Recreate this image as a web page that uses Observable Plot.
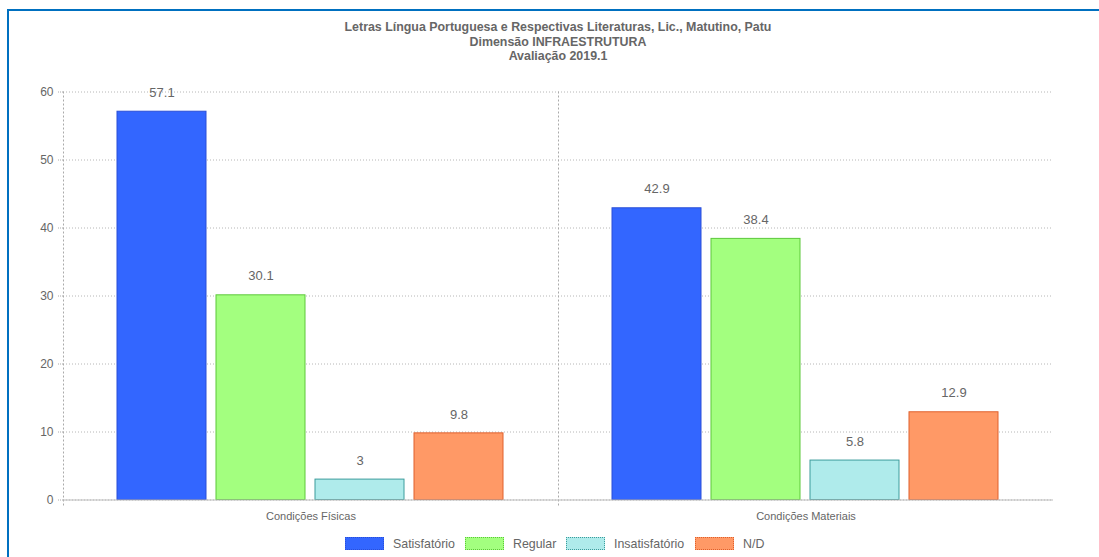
<!DOCTYPE html>
<html>
<head>
<meta charset="utf-8">
<script src="https://cdn.jsdelivr.net/npm/d3@7"></script>
<script src="https://cdn.jsdelivr.net/npm/@observablehq/plot@0.6"></script>
<style>
  html, body { margin: 0; padding: 0; background: #fff; width: 1099px; height: 557px; overflow: hidden; }
  body { font-family: "Liberation Sans", Arial, sans-serif; position: relative; }
  #frame { position: absolute; left: 7px; top: 9px; width: 1200px; height: 700px; border-left: 2px solid #0070c0; border-top: 2px solid #0070c0; }
  #title { position: absolute; left: 0; width: 1116px; top: 20px; text-align: center; color: #666; font-size: 12.4px; font-weight: bold; line-height: 14.5px; }
  #chart { position: absolute; left: 0; top: 70px; }
  #legend { position: absolute; top: 536px; left: 0; width: 1099px; height: 16px; font-size: 12.4px; color: #666; }
  .sw { position: absolute; top: 1px; width: 39px; height: 13px; box-sizing: border-box; border: 1px dotted; }
  .lb { position: absolute; top: 0px; line-height: 16px; }
</style>
</head>
<body>
<div id="frame"></div>
<div id="title">Letras Língua Portuguesa e Respectivas Literaturas, Lic., Matutino, Patu<br>Dimensão INFRAESTRUTURA<br>Avaliação 2019.1</div>
<div id="chart"></div>
<div id="legend"></div>
<script>
const categories = ["Condições Físicas", "Condições Materiais"];
const series = ["Satisfatório", "Regular", "Insatisfatório", "N/D"];
const satisfatorio = [57.1, 42.9];
const regular = [30.1, 38.4];
const insatisfatorio = [3, 5.8];
const nd = [9.8, 12.9];
const yTicks = [0, 10, 20, 30, 40, 50, 60];
const fills = ["#3366ff", "#a3ff7f", "#afebeb", "#ff9966"];
const strokes = ["#2a4fd8", "#5cc83a", "#3c9c9c", "#e0602c"];

const valuesBySeries = [satisfatorio, regular, insatisfatorio, nd];
const data = [];
categories.forEach((c, i) => {
  series.forEach((s, j) => {
    data.push({category: c, series: s, value: valuesBySeries[j][i]});
  });
});

const plot = Plot.plot({
  width: 1099,
  height: 455,
  marginLeft: 62,
  marginRight: 46,
  marginTop: 21.5,
  marginBottom: 25.5,
  style: {fontFamily: "'Liberation Sans', Arial, sans-serif", background: "transparent"},
  fx: {domain: categories, padding: 0, label: null},
  x: {domain: series, padding: 0.1, paddingOuter: 0.55, axis: null},
  y: {domain: [0, 60], label: null},
  color: {domain: series, range: fills},
  marks: [
    Plot.gridY(yTicks, {stroke: "#999", strokeOpacity: 0.7, strokeDasharray: "1,2"}),
    Plot.frame({anchor: "left", stroke: "#aaa", strokeOpacity: 1, strokeDasharray: "1,3", insetBottom: -8}),
    Plot.axisY(yTicks, {tickSize: 6, tickPadding: 4, fontSize: 12, color: "#666", stroke: "#aaa", strokeDasharray: "1,1", label: null}),
    Plot.axisFx({anchor: "bottom", tickSize: 0, tickPadding: 12, fontSize: 11, color: "#666", label: null}),
    Plot.barY(data, {fx: "category", x: "series", y: "value", fill: "series",
      stroke: d => strokes[series.indexOf(d.series)], strokeWidth: 1}),
    Plot.ruleY([0], {stroke: "#bbb"}),
    Plot.text(data, {fx: "category", x: "series", y: "value", text: d => String(d.value),
      dy: -19, fontSize: 13, fill: "#666"})
  ]
});
document.getElementById("chart").appendChild(plot);

// legend
const legend = document.getElementById("legend");
const legendX = [345, 465, 566, 695];
series.forEach((s, j) => {
  const sw = document.createElement("div");
  sw.className = "sw";
  sw.style.left = legendX[j] + "px";
  sw.style.background = fills[j];
  sw.style.borderColor = strokes[j];
  legend.appendChild(sw);
  const lb = document.createElement("div");
  lb.className = "lb";
  lb.style.left = (legendX[j] + 48) + "px";
  lb.textContent = s;
  legend.appendChild(lb);
});
</script>
</body>
</html>
